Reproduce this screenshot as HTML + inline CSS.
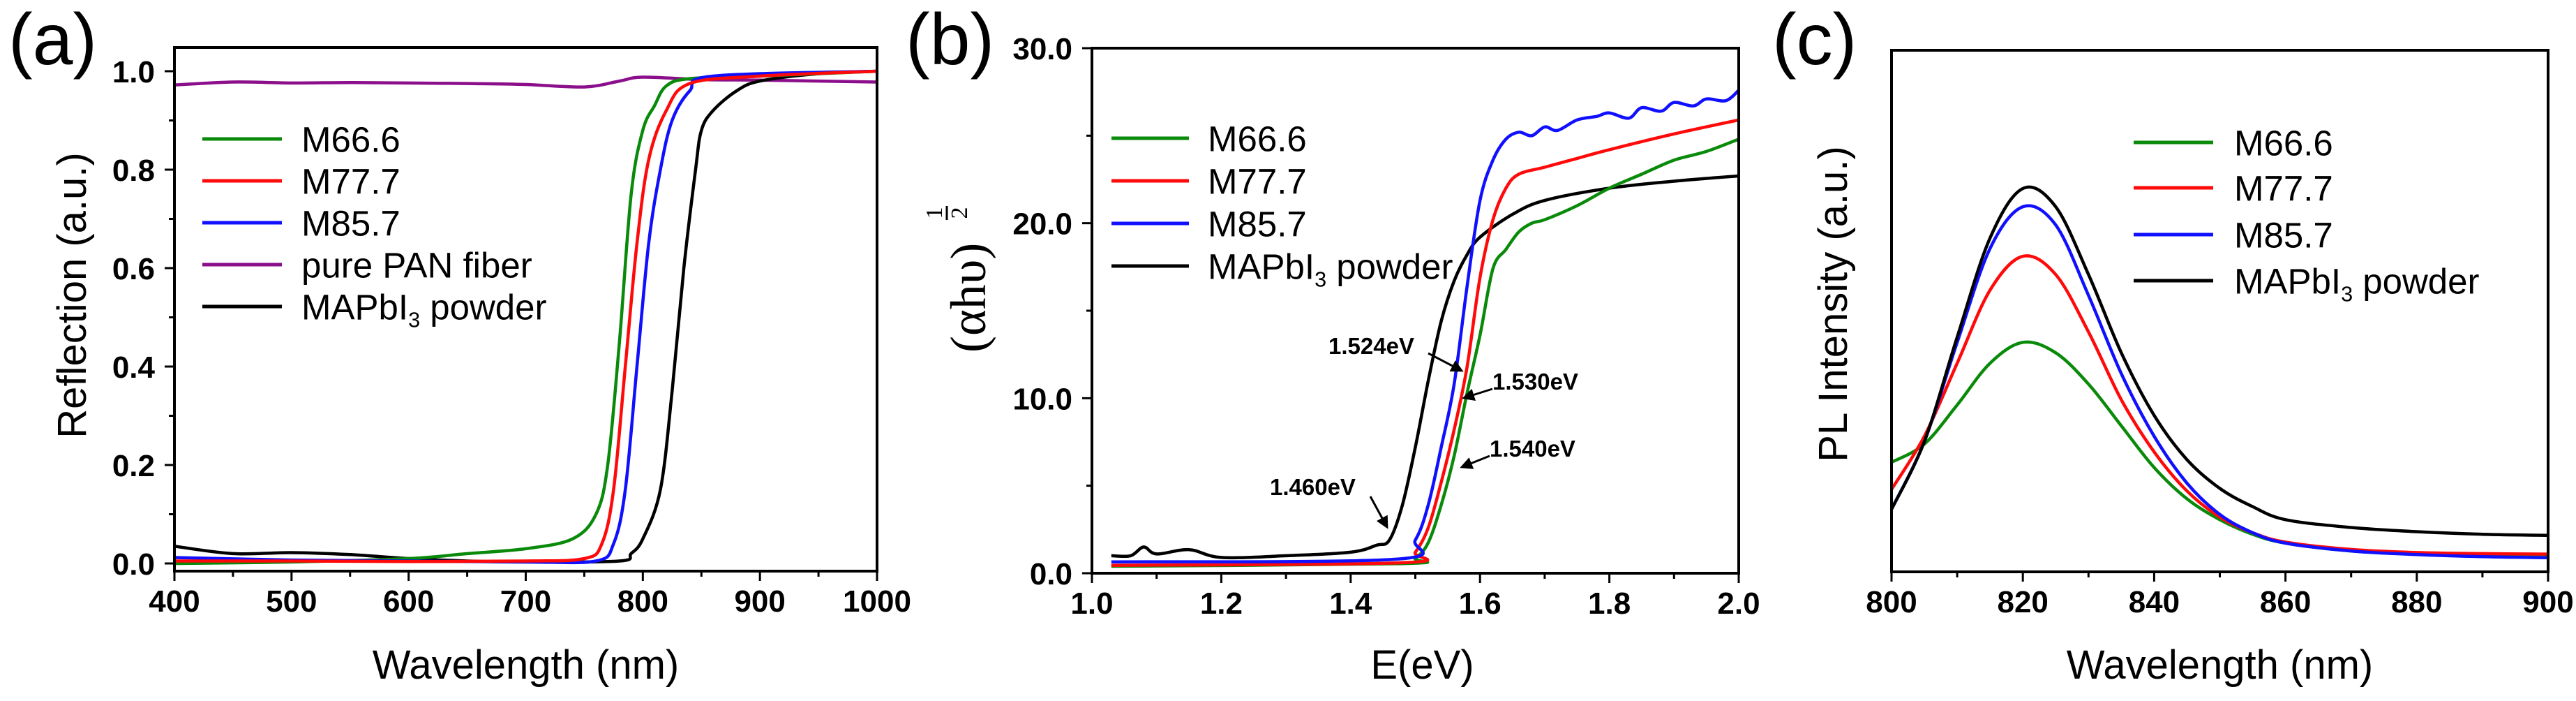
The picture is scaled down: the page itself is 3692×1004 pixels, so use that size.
<!DOCTYPE html>
<html><head><meta charset="utf-8"><style>
html,body{margin:0;padding:0;background:#fff;}
svg{display:block;font-family:"Liberation Sans",Arial,sans-serif;}
.tk{font-weight:bold;font-size:44px;}
</style></head><body>
<svg id="fig" width="3692" height="1004" viewBox="0 0 3692 1004" xmlns="http://www.w3.org/2000/svg"></svg>
<script>
// ---------- Panel (a) data: reflection ----------
const aWl_green=[400,500,600,650,700,740,760,770,780,790,800,810,820,840,900,1000];
const aVal_green=[0.0,0.003,0.01,0.02,0.03,0.05,0.10,0.20,0.45,0.75,0.88,0.93,0.97,0.985,0.99,1.0];
const aWl_red=[400,500,600,700,750,765,775,785,795,805,820,840,900,1000];
const aVal_red=[0.005,0.005,0.004,0.005,0.01,0.04,0.15,0.40,0.65,0.82,0.92,0.975,0.99,1.0];
const aWl_blue=[400,500,600,700,760,775,785,795,805,815,825,840,860,1000];
const aVal_blue=[0.012,0.007,0.005,0.003,0.005,0.04,0.15,0.40,0.65,0.80,0.90,0.96,0.99,1.0];
const aWl_purple=[400,450,500,550,600,650,700,750,780,800,850,900,950,1000];
const aVal_purple=[0.972,0.978,0.976,0.977,0.976,0.975,0.973,0.968,0.98,0.988,0.983,0.982,0.98,0.978];
const aWl_black=[400,450,500,550,600,650,700,780,790,800,815,825,835,845,850,860,880,900,950,1000];
const aVal_black=[0.035,0.02,0.022,0.018,0.01,0.005,0.003,0.005,0.02,0.05,0.15,0.35,0.60,0.80,0.88,0.92,0.96,0.98,0.995,1.0];
const aXTicks=[400,500,600,700,800,900,1000];
const aYTicks=[0.0,0.2,0.4,0.6,0.8,1.0];
// ---------- Panel (b) data: Tauc ----------
const bE_black=[1.03,1.06,1.08,1.1,1.15,1.2,1.3,1.4,1.44,1.46,1.48,1.5,1.52,1.54,1.56,1.58,1.6,1.65,1.7,1.8,1.9,2.0];
const bV_black=[1.0,1.0,1.5,1.1,1.35,0.9,1.0,1.2,1.6,1.9,3.9,7.2,11,14.4,16.7,18.2,19.2,20.5,21.3,22.0,22.4,22.7];
const bE_blue=[1.03,1.47,1.5,1.52,1.54,1.56,1.58,1.6,1.62,1.64,1.66,1.68,1.7,1.72,1.75,1.78,1.8,1.83,1.85,1.88,1.9,1.93,1.95,1.98,2.0];
const bV_blue=[0.65,0.8,1.9,3.9,7.2,10.8,16.4,21.3,23.6,24.8,25.2,25.0,25.5,25.3,25.9,26.1,26.3,26.0,26.6,26.4,26.9,26.7,27.1,27.0,27.6];
const bE_red=[1.03,1.48,1.5,1.52,1.54,1.56,1.58,1.6,1.62,1.64,1.66,1.7,1.75,1.8,1.9,2.0];
const bV_red=[0.45,0.6,1.2,2.6,5.2,8.2,11.8,16.9,20.2,22.0,22.8,23.2,23.7,24.2,25.1,25.9];
const bE_green=[1.03,1.48,1.5,1.52,1.54,1.56,1.58,1.6,1.62,1.64,1.66,1.68,1.7,1.75,1.8,1.85,1.9,1.95,2.0];
const bV_green=[0.4,0.55,0.85,1.75,3.9,6.7,10.3,13.6,17.4,18.5,19.5,20.0,20.2,21.0,22.0,22.8,23.6,24.1,24.8];
const bXTicks=[1.0,1.2,1.4,1.6,1.8,2.0];
const bYTicks=[0,10,20,30];
// ---------- Panel (c) data: PL ----------
const cWl=[800,805,810,815,820,825,830,835,840,845,850,855,860,870,880,890,900];
const cV_black=[0.12,0.25,0.45,0.64,0.735,0.70,0.57,0.42,0.30,0.215,0.16,0.125,0.10,0.085,0.077,0.072,0.07];
const cV_blue=[0.12,0.25,0.44,0.62,0.70,0.665,0.53,0.38,0.26,0.17,0.11,0.075,0.055,0.04,0.033,0.029,0.027];
const cV_red=[0.158,0.26,0.40,0.54,0.605,0.57,0.46,0.33,0.23,0.155,0.105,0.075,0.057,0.043,0.037,0.035,0.034];
const cV_green=[0.21,0.245,0.32,0.40,0.44,0.42,0.36,0.28,0.20,0.14,0.10,0.072,0.055,0.040,0.034,0.032,0.031];
const cXTicks=[800,820,840,860,880,900];

const NS='http://www.w3.org/2000/svg';
const svg=document.getElementById('fig');
function el(tag,attrs,parent){const e=document.createElementNS(NS,tag);for(const k in attrs)e.setAttribute(k,attrs[k]);(parent||svg).appendChild(e);return e;}
function txt(s,attrs,parent){const e=el('text',attrs,parent);e.textContent=s;return e;}
function lin(d0,d1,p0,p1){return v=>p0+(v-d0)/(d1-d0)*(p1-p0);}
function smoothPath(xs,ys){
  let d='M'+xs[0].toFixed(1)+','+ys[0].toFixed(1);
  for(let i=0;i<xs.length-1;i++){
    const x0=xs[Math.max(i-1,0)],y0=ys[Math.max(i-1,0)],x1=xs[i],y1=ys[i],x2=xs[i+1],y2=ys[i+1],x3=xs[Math.min(i+2,xs.length-1)],y3=ys[Math.min(i+2,xs.length-1)];
    const c1x=x1+(x2-x0)/6,c1y=y1+(y2-y0)/6,c2x=x2-(x3-x1)/6,c2y=y2-(y3-y1)/6;
    d+=' C'+c1x.toFixed(1)+','+c1y.toFixed(1)+' '+c2x.toFixed(1)+','+c2y.toFixed(1)+' '+x2.toFixed(1)+','+y2.toFixed(1);
  }
  return d;
}
function series(g,xd,yd,X,Y,color,name){
  const p=el('path',{d:smoothPath(xd.map(X),yd.map(Y)),fill:'none',stroke:color,'stroke-width':4.5,'stroke-linejoin':'round'},g);
  
  
}
function legend(g,x0,x1,tx,ys,items,size){
  items.forEach((it,i)=>{
    const l=el('line',{x1:x0,x2:x1,y1:ys[i],y2:ys[i],stroke:it[1],'stroke-width':5},g);
    
    
    const t=el('text',{x:tx,y:ys[i]+size*0.36,'font-size':size},g);
    
    
    if(it[0]==='MAP'){t.textContent='MAPbI';const s=el('tspan',{'font-size':size*0.6,dy:size*0.22},t);s.textContent='3';const s2=el('tspan',{dy:-size*0.22},t);s2.textContent=' powder';}
    else t.textContent=it[0];
  });
}
function frame(g,L,R,T,B){el('rect',{x:L,y:T,width:R-L,height:B-T,fill:'none',stroke:'#000','stroke-width':4},g);}

// ===== Panel a =====
(function(){
  const g=el('g',{});
  const L=250,R=1257,T=68,B=818;
  const X=lin(400,1000,L,R),Y=lin(0,1,807,102);
  const clip=el('clipPath',{id:'ca'},g);el('rect',{x:L,y:T,width:R-L,height:B-T},clip);
  const cg=el('g',{'clip-path':'url(#ca)'},g);
  series(cg,aWl_purple,aVal_purple,X,Y,'#8b0f8b','series-pure-pan');
  series(cg,aWl_black,aVal_black,X,Y,'#000','series-mapbi3');
  series(cg,aWl_green,aVal_green,X,Y,'#0a8a0a','series-m66');
  series(cg,aWl_blue,aVal_blue,X,Y,'#1010ff','series-m85');
  series(cg,aWl_red,aVal_red,X,Y,'#ff0a0a','series-m77');
  frame(g,L,R,T,B);
  for(let v=400;v<=1000;v+=50){const x=X(v),maj=v%100===0;el('line',{x1:x,x2:x,y1:B,y2:B+(maj?14:8),stroke:'#000','stroke-width':3},g);}
  aXTicks.forEach(v=>{const t=txt(String(v),{x:X(v),y:B+58,'text-anchor':'middle',class:'tk'},g);});
  for(let i=0;i<=10;i++){const y=Y(i/10);el('line',{x1:L,x2:L-(i%2===0?14:8),y1:y,y2:y,stroke:'#000','stroke-width':3},g);}
  aYTicks.forEach(v=>{const t=txt(v.toFixed(1),{x:222,y:Y(v)+16,'text-anchor':'end',class:'tk'},g);});
  const xt=txt('Wavelength (nm)',{x:(L+R)/2,y:972,'text-anchor':'middle','font-size':58},g);
  const yt=txt('Reflection (a.u.)',{x:0,y:0,'text-anchor':'middle','font-size':58,transform:'translate(123,'+((T+B)/2-20)+') rotate(-90)'},g);
  const pl=txt('(a)',{x:12,y:92,'font-size':104},g);
  legend(g,290,404,432,[199,259,319,379,439],[['M66.6','#0a8a0a','m66'],['M77.7','#ff0a0a','m77'],['M85.7','#1010ff','m85'],['pure PAN fiber','#8b0f8b','pan'],['MAP','#000','mapbi3']],51);
})();

// ===== Panel b =====
(function(){
  const g=el('g',{});
  const L=1565,R=2492,T=69,B=821;
  const X=lin(1,2,L,R),Y=lin(0,30,B,T);
  const clip=el('clipPath',{id:'cb'},g);el('rect',{x:L,y:T,width:R-L,height:B-T},clip);
  const cg=el('g',{'clip-path':'url(#cb)'},g);
  series(cg,bE_black,bV_black,X,Y,'#000','series-mapbi3');
  series(cg,bE_green,bV_green,X,Y,'#0a8a0a','series-m66');
  series(cg,bE_red,bV_red,X,Y,'#ff0a0a','series-m77');
  series(cg,bE_blue,bV_blue,X,Y,'#1010ff','series-m85');
  frame(g,L,R,T,B);
  for(let i=0;i<=10;i++){const x=X(1+i/10);el('line',{x1:x,x2:x,y1:B,y2:B+(i%2===0?14:8),stroke:'#000','stroke-width':3},g);}
  bXTicks.forEach(v=>{const t=txt(v.toFixed(1),{x:X(v),y:B+58,'text-anchor':'middle',class:'tk'},g);});
  for(let v=0;v<=30;v+=5){const y=Y(v);el('line',{x1:L,x2:L-(v%10===0?14:8),y1:y,y2:y,stroke:'#000','stroke-width':3},g);}
  bYTicks.forEach(v=>{const t=txt(v.toFixed(1),{x:1537,y:Y(v)+16,'text-anchor':'end',class:'tk'},g);});
  const xt=txt('E(eV)',{x:(L+R)/2+10,y:972,'text-anchor':'middle','font-size':58},g);
  const yg=el('g',{transform:'translate(1412,505) rotate(-90)'},g);
  
  const yt=txt('(αhυ)',{x:0,y:0,'font-size':72,'font-family':'"Liberation Serif",serif'},yg);
  
  const f1=txt('1',{x:200,y:-62,'text-anchor':'middle','font-size':34,'font-family':'"Liberation Serif",serif'},yg);
  
  el('line',{x1:190,x2:210,y1:-55,y2:-55,stroke:'#000','stroke-width':3},yg);
  const f2=txt('2',{x:200,y:-26,'text-anchor':'middle','font-size':34,'font-family':'"Liberation Serif",serif'},yg);
  
  const pl=txt('(b)',{x:1298,y:92,'font-size':104},g);
  legend(g,1593,1704,1731,[198,259,320,381],[['M66.6','#0a8a0a','m66'],['M77.7','#ff0a0a','m77'],['M85.7','#1010ff','m85'],['MAP','#000','mapbi3']],51);
  const ann=[['1.524eV',1904,507,2047,506,2095,531],['1.530eV',2139,558,2139,557,2098,570],['1.540eV',2135,654,2135,653,2095,669],['1.460eV',1820,709,1964,711,1988,755]];
  el('defs',{},g).innerHTML='<marker id="ar" markerWidth="6" markerHeight="6" refX="5" refY="3" orient="auto"><path d="M0,0 L6,3 L0,6 z" fill="#000"/></marker>';
  ann.forEach(a=>{
    const t=txt(a[0],{x:a[1],y:a[2],'font-size':33,'font-weight':'bold'},g);
    const l=el('line',{x1:a[3],y1:a[4],x2:a[5],y2:a[6],stroke:'#000','stroke-width':3,'marker-end':'url(#ar)'},g);
  });
})();

// ===== Panel c =====
(function(){
  const g=el('g',{});
  const L=2711,R=3652,T=72,B=819;
  const X=lin(800,900,L,R),Y=lin(0,1,B,T);
  const clip=el('clipPath',{id:'cc'},g);el('rect',{x:L,y:T,width:R-L,height:B-T},clip);
  const cg=el('g',{'clip-path':'url(#cc)'},g);
  series(cg,cWl,cV_green,X,Y,'#0a8a0a','series-m66');
  series(cg,cWl,cV_red,X,Y,'#ff0a0a','series-m77');
  series(cg,cWl,cV_blue,X,Y,'#1010ff','series-m85');
  series(cg,cWl,cV_black,X,Y,'#000','series-mapbi3');
  frame(g,L,R,T,B);
  for(let v=800;v<=900;v+=10){const x=X(v);el('line',{x1:x,x2:x,y1:B,y2:B+(v%20===0?14:8),stroke:'#000','stroke-width':3},g);}
  cXTicks.forEach(v=>{const t=txt(String(v),{x:X(v),y:B+58,'text-anchor':'middle',class:'tk'},g);});
  const xt=txt('Wavelength (nm)',{x:(L+R)/2,y:972,'text-anchor':'middle','font-size':58},g);
  const yt=txt('PL Intensity (a.u.)',{x:0,y:0,'text-anchor':'middle','font-size':58,transform:'translate(2647,'+((T+B)/2-10)+') rotate(-90)'},g);
  const pl=txt('(c)',{x:2540,y:92,'font-size':104},g);
  legend(g,3058,3172,3202,[204,269,336,402],[['M66.6','#0a8a0a','m66'],['M77.7','#ff0a0a','m77'],['M85.7','#1010ff','m85'],['MAP','#000','mapbi3']],51);
})();
</script>
</body></html>
